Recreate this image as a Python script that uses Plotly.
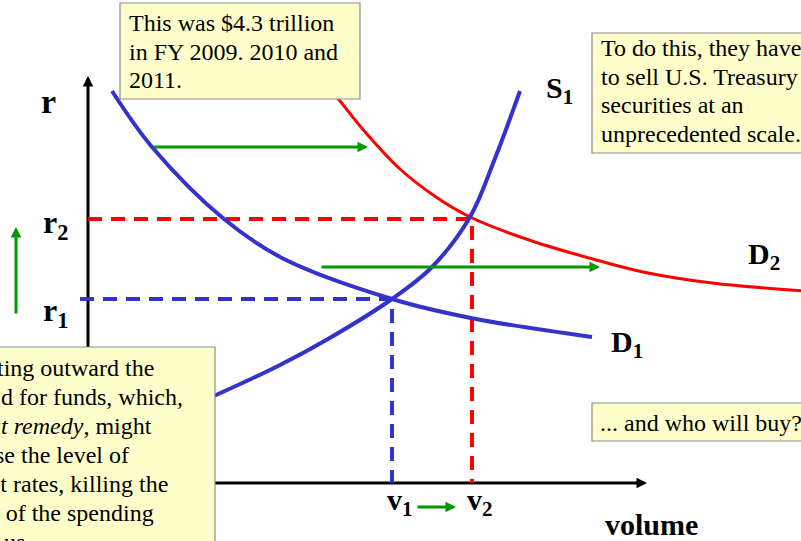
import plotly.graph_objects as go

W, H = 801, 541

# ---------------- data (x: volume, y: interest rate r; arbitrary units) ----------------
d1_volume = [0.6, 1.6, 3.4, 4.9, 7.6, 9.6, 12.6]
d1_rate   = [9.8, 8.4, 6.6, 5.6, 4.6, 4.12, 3.65]

d2_volume = [5.85, 6.3, 6.95, 7.8, 8.7, 9.55, 11.1, 12.8, 14.0, 15.6, 17.9]
d2_rate   = [10.1, 9.55, 8.75, 7.85, 7.15, 6.65, 6.05, 5.55, 5.25, 5.0, 4.8]

s1_volume = [1.8, 3.2, 4.8, 6.0, 7.6, 8.6, 9.55, 10.15, 10.8]
s1_rate   = [1.6, 2.2, 2.95, 3.6, 4.6, 5.4, 6.65, 8.05, 9.8]

r_levels = [4.6, 6.6]      # r1, r2
v_levels = [7.6, 9.6]      # v1, v2

# horizontal shift arrows of demand (green): tail volume, head volume, rate
shift_tail_v = [1.6, 5.8]
shift_head_v = [7.0, 12.8]
shift_rate   = [8.4, 5.4]

# ---------------- styling ----------------
BLUE = "#3333CC"
RED = "#FF0000"
GREEN = "#009900"
BOX_FILL = "#FFFFCC"
BOX_LINE = "#8C8C8C"
SERIF = "Liberation Serif, Times New Roman, serif"

X_RANGE = [-2.2, 17.825]
Y_RANGE = [-1.45, 12.075]
X_AXIS_END = 13.975
Y_AXIS_END = 10.175


def pp(px, py):
    """pixel -> paper coordinates (margins are zero)"""
    return px / W, 1 - py / H


fig = go.Figure()

# axes
fig.add_trace(go.Scatter(x=[0, 0, X_AXIS_END - 0.2], y=[Y_AXIS_END - 0.2, 0, 0], mode="lines",
                         line=dict(color="black", width=3), hoverinfo="skip"))

# dashed guide lines
fig.add_trace(go.Scatter(x=[-0.2, v_levels[0], v_levels[0]], y=[r_levels[0], r_levels[0], 0],
                         mode="lines", line=dict(color=BLUE, width=4, dash="14px,9px"), hoverinfo="skip"))
fig.add_trace(go.Scatter(x=[0, v_levels[1], v_levels[1]], y=[r_levels[1], r_levels[1], 0],
                         mode="lines", line=dict(color=RED, width=4, dash="14px,9px"), hoverinfo="skip"))

# curves
fig.add_trace(go.Scatter(x=d2_volume, y=d2_rate, mode="lines",
                         line=dict(color=RED, width=3, shape="spline", smoothing=1.0), hoverinfo="skip"))
fig.add_trace(go.Scatter(x=d1_volume, y=d1_rate, mode="lines",
                         line=dict(color=BLUE, width=4, shape="spline", smoothing=1.0), hoverinfo="skip"))
fig.add_trace(go.Scatter(x=s1_volume, y=s1_rate, mode="lines",
                         line=dict(color=BLUE, width=4, shape="spline", smoothing=1.0), hoverinfo="skip"))

annotations = []


def arrow(x0, y0, x1, y1, color, width, size):
    annotations.append(dict(x=x1, y=y1, ax=x0, ay=y0, xref="x", yref="y", axref="x", ayref="y",
                            text="", showarrow=True, arrowhead=2, arrowsize=size,
                            arrowwidth=width, arrowcolor=color))


# axis arrowheads
arrow(0, Y_AXIS_END - 0.3, 0, Y_AXIS_END, "black", 3, 0.7)
arrow(X_AXIS_END - 0.3, 0, X_AXIS_END, 0, "black", 3, 0.7)

# demand shift arrows
for t, h, r in zip(shift_tail_v, shift_head_v, shift_rate):
    arrow(t, r, h, r, GREEN, 3, 0.7)
# rate rise arrow and volume rise arrow
arrow(-1.8, 4.2, -1.8, 6.4, GREEN, 3, 0.7)
arrow(8.2, -0.6, 9.2, -0.6, GREEN, 3, 0.7)

# curve / axis labels
labels = [
    ("<b>r</b>", 48, 101, 34),
    ("<b>r<sub>2</sub></b>", 55, 225, 32),
    ("<b>r<sub>1</sub></b>", 55, 312, 32),
    ("<b>S<sub>1</sub></b>", 559, 90, 30),
    ("<b>D<sub>2</sub></b>", 764, 256, 30),
    ("<b>D<sub>1</sub></b>", 627, 344, 30),
    ("<b>v<sub>1</sub></b>", 400, 502, 30),
    ("<b>v<sub>2</sub></b>", 480, 502, 30),
    ("<b>volume</b>", 651, 524, 30),
]
for txt, x, y, s in labels:
    px_, py_ = pp(x, y)
    annotations.append(dict(x=px_, y=py_, xref="paper", yref="paper", text=txt, showarrow=False,
                            xanchor="center", yanchor="middle",
                            font=dict(family=SERIF, size=s, color="black")))

# text boxes
shapes = []
boxes = [(120, 3, 360, 99), (592, 33, 806, 153), (592, 403, 806, 441), (-5, 347, 215, 546)]
for x0, y0, x1, y1 in boxes:
    a, b = pp(x0, y0)
    c, d = pp(x1, y1)
    shapes.append(dict(type="rect", xref="paper", yref="paper", x0=a, y0=d, x1=c, y1=b,
                       fillcolor=BOX_FILL, line=dict(color=BOX_LINE, width=1.2), layer="above"))

BOX_FONT = dict(family=SERIF, size=24, color="black")


def line_text(txt, x, y, anchor="left"):
    px_, py_ = pp(x, y)
    annotations.append(dict(x=px_, y=py_, xref="paper", yref="paper", text=txt, showarrow=False,
                            xanchor=anchor, yanchor="middle", font=BOX_FONT))


top_lines = ["This was $4.3 trillion", "in FY 2009. 2010 and", "2011."]
for i, t in enumerate(top_lines):
    line_text(t, 127, 23 + 28.7 * i)

right_lines = ["To do this, they have", "to sell U.S. Treasury", "securities at an", "unprecedented scale."]
for i, t in enumerate(right_lines):
    line_text(t, 599, 48 + 28.5 * i)

line_text("... and who will buy?", 598, 423)

left_lines = [("ting outward the", 156), ("d for funds, which,", 185), ("<i>ut remedy</i>, might", 154),
              ("se the level of", 131), ("st rates, killing the", 170), ("t of the spending", 156)]
for i, (t, xr) in enumerate(left_lines):
    line_text(t, xr, 368 + 29 * i, anchor="right")
line_text("us.", 2, 368 + 29 * 6)

fig.update_layout(
    width=W, height=H, margin=dict(l=0, r=0, t=0, b=0),
    paper_bgcolor="white", plot_bgcolor="white",
    showlegend=False,
    xaxis=dict(range=X_RANGE, visible=False, fixedrange=True),
    yaxis=dict(range=Y_RANGE, visible=False, fixedrange=True),
    annotations=annotations, shapes=shapes,
)

fig.write_html("out.html", config={"displayModeBar": False},
               post_script="document.body.style.margin='0';document.body.style.overflow='hidden';")
